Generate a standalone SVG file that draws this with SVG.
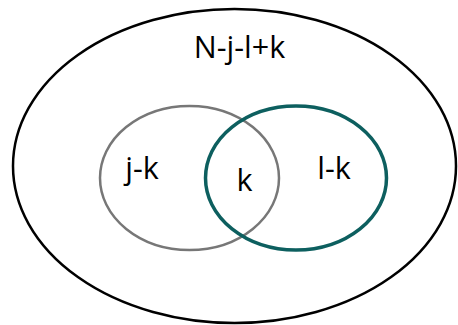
<svg xmlns="http://www.w3.org/2000/svg" width="458" height="325" viewBox="0 0 458 325">
<style>
text{font-family:"Open Sans","Liberation Sans",sans-serif;font-size:30.5px;fill:#000;text-anchor:middle}
</style>
<rect width="458" height="325" fill="#fff"/>
<g id="universe"><ellipse cx="234.5" cy="166" rx="221.5" ry="157" fill="none" stroke="#000" stroke-width="2.5"/><text x="239.5" y="58">N-j-l+k</text></g>
<g id="setJ"><ellipse cx="189.5" cy="178" rx="89.5" ry="72" fill="none" stroke="#777" stroke-width="2.5"/><text x="142" y="179">j-k</text></g>
<g id="setL"><ellipse cx="296" cy="178" rx="90.5" ry="72" fill="none" stroke="#0d5f5f" stroke-width="3.5"/><text x="334" y="179">l-k</text></g>
<g id="intersection"><text x="244.5" y="191">k</text></g>
<g id="connectors"/>
</svg>
